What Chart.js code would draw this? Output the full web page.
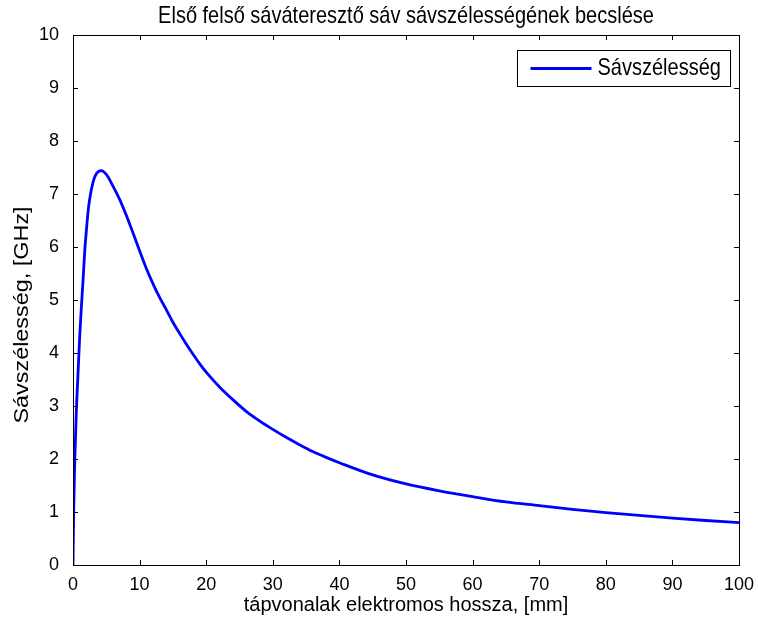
<!DOCTYPE html>
<html>
<head>
<meta charset="utf-8">
<script src="https://cdn.jsdelivr.net/npm/chart.js@4/dist/chart.umd.min.js"></script>
<style>
  html, body { margin: 0; padding: 0; background: #fff; }
  #wrap { width: 758px; height: 621px; }
</style>
</head>
<body>
<div id="wrap"><canvas id="bwChart"></canvas></div>
<script>
// line length in mm and estimated bandwidth in GHz
var hossz = [0, 0.1, 0.25, 0.5, 0.75, 1.0, 1.25, 1.5, 1.75, 2.0, 2.25, 2.5, 3.0, 3.5, 4.2,
    5.0, 6.0, 7.0, 8.0, 9.0, 10, 11, 12, 13, 14, 15, 16, 17, 18, 19, 20,
    22, 24, 26, 28, 30, 32, 34, 36, 38, 40, 45, 50, 55, 60, 65, 70, 75, 80, 85, 90, 95, 100];
var savszel = [0, 1.0, 1.9, 2.9, 3.6, 4.3, 4.85, 5.35, 5.9, 6.3, 6.65, 6.9, 7.22, 7.38, 7.44,
    7.37, 7.15, 6.9, 6.6, 6.27, 5.93, 5.6, 5.31, 5.05, 4.82, 4.58, 4.37, 4.17, 3.98, 3.8, 3.64,
    3.36, 3.12, 2.9, 2.72, 2.56, 2.41, 2.27, 2.14, 2.03, 1.93, 1.70, 1.53, 1.40, 1.29, 1.19,
    1.12, 1.05, 0.99, 0.935, 0.885, 0.84, 0.80];
var xTicks = [0, 10, 20, 30, 40, 50, 60, 70, 80, 90, 100];
var yTicks = [0, 1, 2, 3, 4, 5, 6, 7, 8, 9, 10];

var title = 'Első felső sávátereszt\u0151 sáv sávszélességének becslése';
var yTitle = 'Sávszélesség, [GHz]';

var FONT = '"Liberation Sans", Arial, sans-serif';
var STRETCH = 1.17;   // text in this figure is a bit taller than it is wide

var points = hossz.map(function (x, i) { return { x: x, y: savszel[i] }; });

// text drawn with the vertical stretch
function tallText(ctx, txt, x, y, align) {
    ctx.save();
    ctx.translate(x, y);
    ctx.scale(1, STRETCH);
    ctx.textAlign = align;
    ctx.fillText(txt, 0, 0);
    ctx.restore();
}

// box around the axes, inward ticks on all four sides, titles and legend
var boxPlugin = {
    id: 'boxPlugin',
    afterDraw: function (chart) {
        var ctx = chart.ctx;
        var a = chart.chartArea;
        var xs = chart.scales.x, ys = chart.scales.y;
        var len = 5;
        ctx.save();
        ctx.strokeStyle = '#000';
        ctx.lineWidth = 1;
        ctx.beginPath();
        xTicks.forEach(function (v) {
            var px = Math.round(xs.getPixelForValue(v)) + 0.5;
            ctx.moveTo(px, a.bottom); ctx.lineTo(px, a.bottom - len);
            ctx.moveTo(px, a.top); ctx.lineTo(px, a.top + len);
        });
        yTicks.forEach(function (v) {
            var py = Math.round(ys.getPixelForValue(v)) + 0.5;
            ctx.moveTo(a.left, py); ctx.lineTo(a.left + len, py);
            ctx.moveTo(a.right, py); ctx.lineTo(a.right - len, py);
        });
        ctx.stroke();
        ctx.strokeRect(Math.round(a.left) + 0.5, Math.round(a.top) + 0.5,
            Math.round(a.right - a.left), Math.round(a.bottom - a.top));

        // chart title, centred over the plot box
        ctx.fillStyle = '#000';
        ctx.textBaseline = 'middle';
        ctx.font = '20px ' + FONT;
        tallText(ctx, title, (a.left + a.right) / 2, 17, 'center');

        // y axis title, stretched along its length
        ctx.save();
        ctx.translate(22, (a.top + a.bottom) / 2 + 15);
        ctx.rotate(-Math.PI / 2);
        ctx.scale(STRETCH, 1);
        ctx.font = '20px ' + FONT;
        ctx.textAlign = 'center';
        ctx.fillText(yTitle, 0, 0);
        ctx.restore();

        // legend
        var ds = chart.data.datasets[0];
        var bw = 213, bh = 36;
        var bx = Math.round(a.right) - 9 - bw + 0.5, by = Math.round(a.top) + 15.5;
        ctx.fillStyle = '#fff';
        ctx.fillRect(bx, by, bw, bh);
        ctx.strokeRect(bx, by, bw, bh);
        ctx.strokeStyle = ds.borderColor;
        ctx.lineWidth = 3;
        ctx.beginPath();
        ctx.moveTo(bx + 13, by + bh / 2);
        ctx.lineTo(bx + 74, by + bh / 2);
        ctx.stroke();
        ctx.fillStyle = '#000';
        ctx.font = '20px ' + FONT;
        tallText(ctx, ds.label, bx + 80, by + bh / 2, 'left');
        ctx.restore();
    }
};

new Chart(document.getElementById('bwChart'), {
    type: 'line',
    data: {
        datasets: [{
            label: 'Sávszélesség',
            data: points,
            borderColor: '#0000ff',
            borderWidth: 2.8,
            pointRadius: 0,
            cubicInterpolationMode: 'monotone',
            fill: false
        }]
    },
    options: {
        responsive: true,
        maintainAspectRatio: false,
        animation: false,
        layout: { padding: { left: 0, right: 19, top: 35, bottom: 0 } },
        plugins: {
            legend: { display: false },
            tooltip: { enabled: false },
            title: { display: false }
        },
        scales: {
            x: {
                type: 'linear',
                min: 0,
                max: 100,
                grid: { display: false },
                border: { display: false },
                ticks: {
                    stepSize: 10,
                    color: '#000',
                    padding: 1,
                    maxRotation: 0,
                    font: { family: FONT, size: 18 }
                },
                title: {
                    display: true,
                    text: 'tápvonalak elektromos hossza, [mm]',
                    color: '#000',
                    font: { family: FONT, size: 20 },
                    padding: { top: 0, bottom: 4 }
                },
                afterFit: function (scale) { scale.height = 56; }
            },
            y: {
                min: 0,
                max: 10,
                grid: { display: false },
                border: { display: false },
                ticks: {
                    stepSize: 1,
                    color: '#000',
                    padding: 6,
                    font: { family: FONT, size: 18 }
                },
                afterFit: function (scale) { scale.width = 73; }
            }
        }
    },
    plugins: [boxPlugin]
});
</script>
</body>
</html>
